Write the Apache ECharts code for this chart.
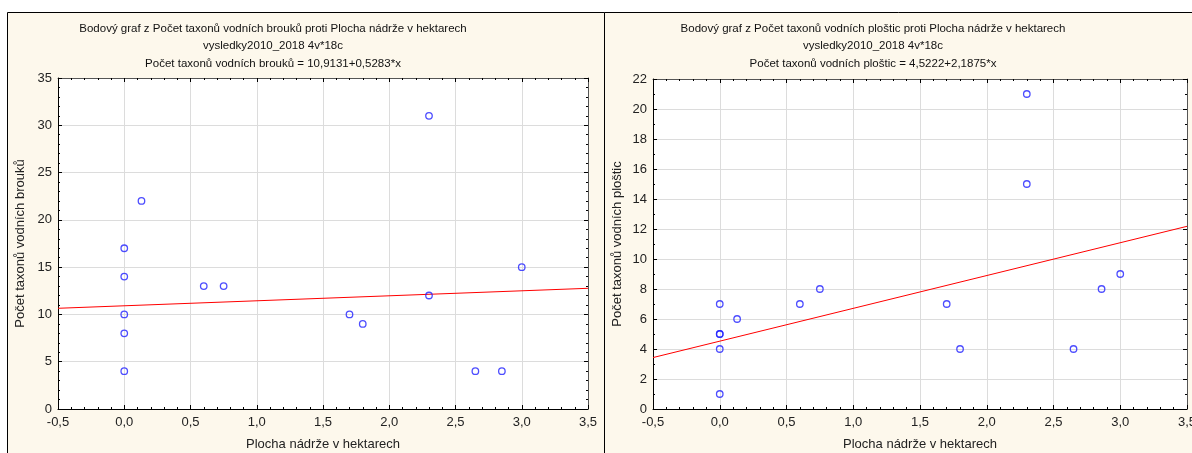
<!DOCTYPE html>
<html><head><meta charset="utf-8">
<script src="https://cdn.jsdelivr.net/npm/echarts@6/dist/echarts.min.js"></script>
<style>html,body{margin:0;padding:0;background:#fff}#c{width:1192px;height:453px}</style>
</head><body><div id="c"></div>
<script>
// Left chart: water beetles
const beetleX = [0, 0, 0, 0, 0, 0.13, 0.6, 0.75, 1.7, 1.8, 2.3, 2.3, 2.65, 2.85, 3.0];
const beetleY = [17, 14, 10, 8, 4, 22, 13, 13, 10, 9, 31, 12, 4, 4, 15];
const beetleFit = [10.9131, 0.5283];
// Right chart: water bugs
const bugX = [0, 0, 0, 0, 0, 0.13, 0.6, 0.75, 1.7, 1.8, 2.3, 2.3, 2.65, 2.86, 3.0];
const bugY = [7, 5, 5, 4, 1, 6, 7, 8, 7, 4, 21, 15, 4, 8, 9];
const bugFit = [4.5222, 2.1875];
const xRange = [-0.5, 3.5];
const titlesLeft = ['Bodový graf z Počet taxonů vodních brouků proti Plocha nádrže v hektarech', 'vysledky2010_2018 4v*18c', 'Počet taxonů vodních brouků = 10,9131+0,5283*x'];
const titlesRight = ['Bodový graf z Počet taxonů vodních ploštic proti Plocha nádrže v hektarech', 'vysledky2010_2018 4v*18c', 'Počet taxonů vodních ploštic = 4,5222+2,1875*x'];
const xName = 'Plocha nádrže v hektarech';
const yNameLeft = 'Počet taxonů vodních brouků';
const yNameRight = 'Počet taxonů vodních ploštic';

const FONT = 'Liberation Sans, Arial, sans-serif';
const chart = echarts.init(document.getElementById('c'));
const fmtX = v => v.toFixed(1).replace('.', ',');
const lbl = {color: '#222', fontFamily: FONT, fontSize: 13};
function xAxes(gi) {
  return [{
    type: 'value', gridIndex: gi, min: -0.5, max: 3.5, interval: 0.5, position: 'bottom',
    axisLine: {onZero: false, lineStyle: {color: '#000', width: 1}},
    axisTick: {inside: true, length: 4, lineStyle: {color: '#000'}},
    minorTick: {show: true, splitNumber: 5, length: 2, lineStyle: {color: '#000'}},
    splitLine: {show: true, lineStyle: {color: '#dcdcdc', width: 1}},
    axisLabel: Object.assign({formatter: fmtX, margin: 7}, lbl),
    name: xName, nameLocation: 'middle', nameGap: 29, nameTextStyle: lbl
  }, {
    type: 'value', gridIndex: gi, min: -0.5, max: 3.5, interval: 0.5, position: 'top',
    axisLine: {show: true, onZero: false, lineStyle: {color: '#555'}},
    axisTick: {show: true, inside: true, length: 4, lineStyle: {color: '#000'}},
    minorTick: {show: true, splitNumber: 5, length: 2, lineStyle: {color: '#000'}},
    splitLine: {show: false}, axisLabel: {show: false}
  }];
}
function yAxes(gi, max, interval, minor, name, gap) {
  return [{
    type: 'value', gridIndex: gi, min: 0, max: max, interval: interval, position: 'left',
    axisLine: {show: true, onZero: false, lineStyle: {color: '#000', width: 1}},
    axisTick: {show: true, inside: true, length: 4, lineStyle: {color: '#000'}},
    minorTick: {show: true, splitNumber: minor, length: 2, lineStyle: {color: '#000'}},
    splitLine: {show: true, lineStyle: {color: '#dcdcdc', width: 1}},
    axisLabel: Object.assign({margin: 6}, lbl),
    name: name, nameLocation: 'middle', nameGap: gap, nameTextStyle: lbl
  }, {
    type: 'value', gridIndex: gi, min: 0, max: max, interval: interval, position: 'right',
    axisLine: {show: true, onZero: false, lineStyle: {color: '#555'}},
    axisTick: {show: true, inside: true, length: 4, lineStyle: {color: '#000'}},
    minorTick: {show: true, splitNumber: minor, length: 2, lineStyle: {color: '#000'}},
    splitLine: {show: false}, axisLabel: {show: false}
  }];
}
const pts = (xs, ys) => xs.map((x, i) => [x, ys[i]]);
const fitLine = f => xRange.map(x => [x, f[0] + f[1] * x]);
const scatter = (xi, yi, data) => ({
  type: 'scatter', xAxisIndex: xi, yAxisIndex: yi, data: data, symbol: 'circle', symbolSize: 6.5,
  itemStyle: {color: 'rgba(255,255,255,0)', borderColor: '#2020ff', borderWidth: 1.3}, z: 5, silent: true
});
const line = (xi, yi, data) => ({
  type: 'line', xAxisIndex: xi, yAxisIndex: yi, data: data, showSymbol: false, symbol: 'none',
  lineStyle: {color: '#ff0000', width: 1}, z: 4, silent: true
});
const titleStyle = {fontFamily: FONT, fontSize: 11.5, fontWeight: 'normal', color: '#111', lineHeight: 17.5};
chart.setOption({
  animation: false,
  backgroundColor: '#fff',
  graphic: [
    {type: 'rect', shape: {x: 7.5, y: 12.5, width: 597, height: 460}, style: {fill: '#fdf8ec', stroke: '#000', lineWidth: 1}, z: -10},
    {type: 'rect', shape: {x: 604.5, y: 12.5, width: 620, height: 460}, style: {fill: '#fdf8ec', stroke: '#000', lineWidth: 1}, z: -10}
  ],
  title: [
    {text: titlesLeft.join('\n'), left: 268, top: 15, textAlign: 'center', textStyle: titleStyle},
    {text: titlesRight.join('\n'), left: 868, top: 15, textAlign: 'center', textStyle: titleStyle}
  ],
  grid: [
    {left: 58, top: 78, width: 530, height: 331, backgroundColor: '#fff', show: true, borderWidth: 0, outerBoundsMode: 'none', containLabel: false},
    {left: 653, top: 79, width: 534, height: 330, backgroundColor: '#fff', show: true, borderWidth: 0, outerBoundsMode: 'none', containLabel: false}
  ],
  xAxis: [...xAxes(0), ...xAxes(1)],
  yAxis: [...yAxes(0, 35, 5, 5, yNameLeft, 31), ...yAxes(1, 22, 2, 2, yNameRight, 29)],
  series: [
    line(0, 0, fitLine(beetleFit)),
    scatter(0, 0, pts(beetleX, beetleY)),
    line(2, 2, fitLine(bugFit)),
    scatter(2, 2, pts(bugX, bugY))
  ]
});
</script></body></html>
